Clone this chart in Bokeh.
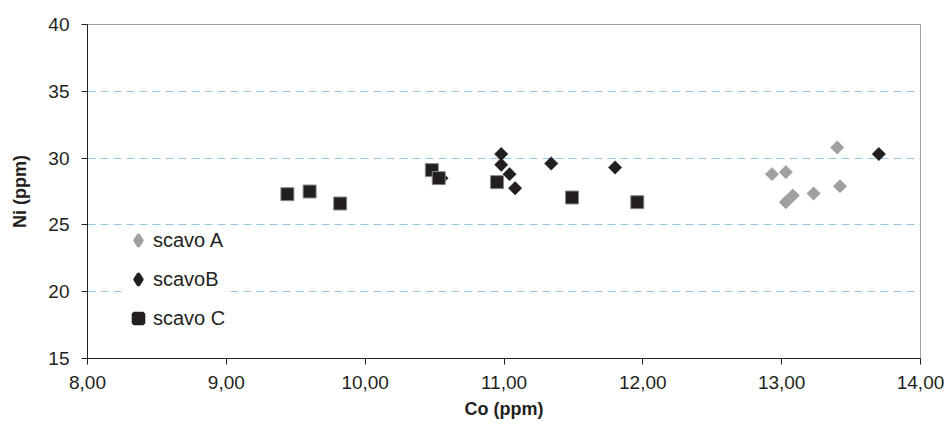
import math
from bokeh.plotting import figure
from bokeh.models import FixedTicker, Legend, LegendItem, Range1d
from bokeh.embed import file_html
from bokeh.resources import INLINE

# ---- data ----
scavo_a_co = [12.93, 13.03, 13.03, 13.08, 13.23, 13.40, 13.42]
scavo_a_ni = [28.8, 28.95, 26.7, 27.2, 27.35, 30.8, 27.9]

scavo_b_co = [10.55, 10.98, 10.98, 11.04, 11.08, 11.34, 11.80, 13.70]
scavo_b_ni = [28.5, 30.3, 29.5, 28.8, 27.75, 29.6, 29.3, 30.3]

scavo_c_co = [9.44, 9.60, 9.82, 10.48, 10.53, 10.95, 11.49, 11.96]
scavo_c_ni = [27.3, 27.5, 26.6, 29.1, 28.5, 28.2, 27.05, 26.7]

series_names = ["scavo A", "scavoB", "scavo C"]

x_ticks = [8, 9, 10, 11, 12, 13, 14]
x_tick_labels = ["8,00", "9,00", "10,00", "11,00", "12,00", "13,00", "14,00"]
y_ticks = [15, 20, 25, 30, 35, 40]
y_grid_ticks = [20, 25, 30, 35]

x_title = "Co (ppm)"
y_title = "Ni (ppm)"

# ---- style ----
FONT = "Liberation Sans"
INK = "#231f20"
GREY = "#a0a0a0"
DARK = "#231f20"

p = figure(
    frame_width=833, frame_height=334,
    min_border_left=87, min_border_right=25, min_border_top=24, min_border_bottom=76,
    x_range=Range1d(8, 14), y_range=Range1d(15, 40),
    output_backend="svg", toolbar_location=None,
    background_fill_color="white", border_fill_color="white",
)
p.outline_line_color = GREY
p.outline_line_width = 1

# axes
for ax in (p.xaxis[0], p.yaxis[0]):
    ax.axis_line_color = INK
    ax.axis_line_width = 1
    ax.major_tick_line_color = INK
    ax.major_tick_out = 6
    ax.major_tick_in = 0
    ax.minor_tick_line_color = None
    ax.major_label_text_font = FONT
    ax.major_label_text_color = INK
    ax.axis_label_text_font = FONT
    ax.axis_label_text_font_style = "bold"
    ax.axis_label_text_color = INK
    ax.axis_label_text_font_size = "18px"

p.xaxis.ticker = FixedTicker(ticks=x_ticks)
p.xaxis.major_label_overrides = {t: l for t, l in zip(x_ticks, x_tick_labels)}
p.xaxis.major_label_text_font_size = "19px"
p.xaxis.major_label_standoff = 11
p.xaxis.axis_label = x_title
p.xaxis.axis_label_standoff = 7

p.yaxis.ticker = FixedTicker(ticks=y_ticks)
p.yaxis.major_label_text_font_size = "19px"
p.yaxis.major_label_standoff = 12
p.yaxis.axis_label = y_title
p.yaxis.axis_label_standoff = 15

# grid
p.xgrid.grid_line_color = None
p.ygrid.ticker = FixedTicker(ticks=y_grid_ticks)
p.ygrid.grid_line_color = "#94c8e4"
p.ygrid.grid_line_dash = "8 5"
p.ygrid.grid_line_width = 1

# legend proxies (tiny, hidden under the real markers; the legend sizes its own glyphs)
proxy_a = p.scatter(scavo_a_co, scavo_a_ni, marker="diamond", size=1,
                    fill_color=GREY, line_color=GREY, line_width=4, line_join="round")
proxy_b = p.scatter(scavo_b_co, scavo_b_ni, marker="diamond", size=1,
                    fill_color=DARK, line_color=DARK, line_width=4, line_join="round")
proxy_c = p.scatter(scavo_c_co, scavo_c_ni, marker="square", size=1,
                    fill_color=DARK, line_color=DARK, line_width=4)

# real markers
p.scatter(scavo_a_co, scavo_a_ni, marker="square", angle=math.pi / 4, size=9.5,
          fill_color=GREY, line_color=GREY, line_width=0.5)
p.scatter(scavo_b_co, scavo_b_ni, marker="square", angle=math.pi / 4, size=9.5,
          fill_color=DARK, line_color=DARK, line_width=0.5)
p.scatter(scavo_c_co, scavo_c_ni, marker="square", size=13,
          fill_color=DARK, line_color="#8a8a8a", line_width=1)

legend = Legend(
    items=[LegendItem(label=n, renderers=[r]) for n, r in zip(series_names, [proxy_a, proxy_b, proxy_c])],
    location=(39, 28),
    glyph_width=24, glyph_height=24, label_height=24,
    spacing=15, padding=5, margin=0, label_standoff=3,
    background_fill_color="white", background_fill_alpha=1.0,
    border_line_color=None,
    label_text_font=FONT, label_text_font_size="20px", label_text_color=INK,
)
p.add_layout(legend)

open("out.html", "w").write(file_html(p, INLINE))
